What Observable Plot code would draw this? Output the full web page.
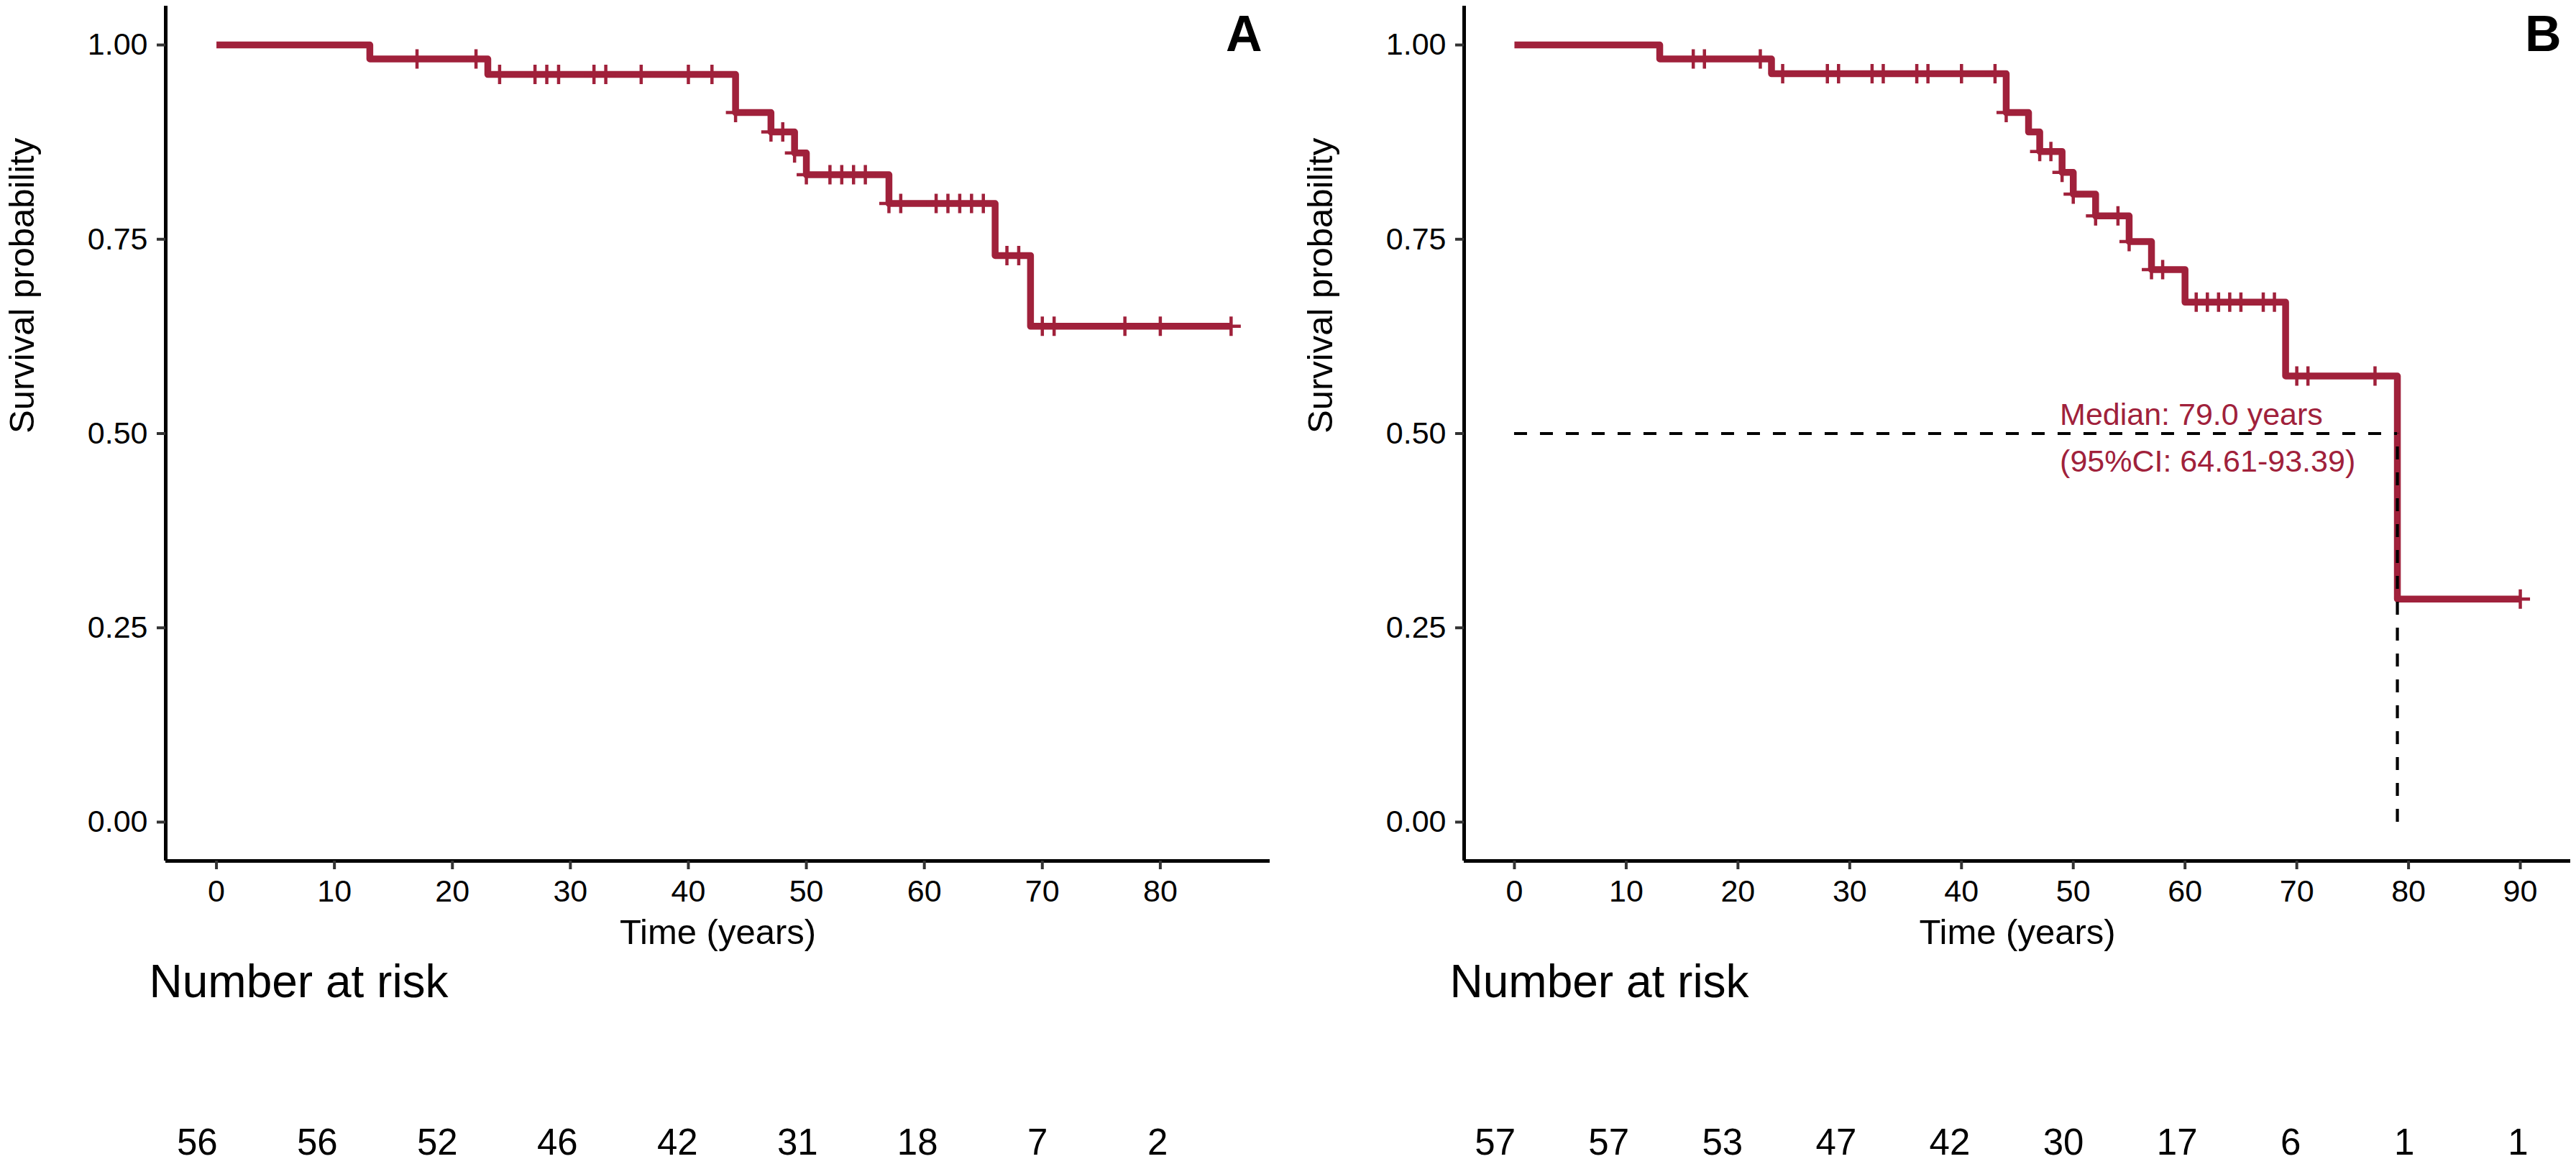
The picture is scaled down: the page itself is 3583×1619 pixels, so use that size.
<!DOCTYPE html>
<html><head><meta charset="utf-8">
<script src="https://cdn.jsdelivr.net/npm/d3@7"></script>
<script src="https://cdn.jsdelivr.net/npm/@observablehq/plot@0.6"></script>
<style>
html,body{margin:0;padding:0;background:#fff;}
#wrap{display:flex;width:3583px;height:1619px;overflow:hidden;background:#fff;}
.col{display:flex;flex-direction:column;}
svg{max-width:none!important;display:block;}
</style></head><body>
<div id="wrap"><div class="col" id="colA"></div><div class="col" id="colB"></div></div>
<script>
// ---- Data ----
const timesA = [0, 13, 23, 44, 47, 49, 50, 57, 66, 69, 86];
const survA  = [1, 0.982, 0.962, 0.913, 0.888, 0.861, 0.833, 0.796, 0.729, 0.638, 0.638];
const censorA = [17, 22, 24, 27, 28, 29, 32, 33, 36, 40, 42, 44, 47, 48, 49, 50, 52, 53, 54, 55,
                 57, 58, 61, 62, 63, 64, 65, 67, 68, 70, 71, 77, 80, 86];
const timesB = [0, 13, 23, 44, 46, 47, 49, 50, 52, 55, 57, 60, 69, 79, 90];
const survB  = [1, 0.982, 0.963, 0.913, 0.888, 0.863, 0.836, 0.808, 0.780, 0.747, 0.711, 0.669, 0.574, 0.287, 0.287];
const censorB = [16, 17, 22, 24, 28, 29, 32, 33, 36, 37, 40, 43, 44, 47, 48, 49, 50, 52, 54, 55,
                 57, 58, 61, 62, 63, 64, 65, 67, 68, 70, 71, 77, 90];
const riskTimesA = [0, 10, 20, 30, 40, 50, 60, 70, 80];
const riskA = [56, 56, 52, 46, 42, 31, 18, 7, 2];
const riskTimesB = [0, 10, 20, 30, 40, 50, 60, 70, 80, 90];
const riskB = [57, 57, 53, 47, 42, 30, 17, 6, 1, 1];
const yTicks = [0, 0.25, 0.5, 0.75, 1];
const xTicksA = [0, 10, 20, 30, 40, 50, 60, 70, 80];
const xTicksB = [0, 10, 20, 30, 40, 50, 60, 70, 80, 90];
const medianB = 79.0;
const medianLabel = "Median: 79.0 years\n(95%CI: 64.61-93.39)";

// ---- Styling ----
const RED = "#A0213B";
const FONT = "Liberation Sans, Arial, sans-serif";
const yDomain = [-0.05, 1.05];

const plusSymbol = {
  draw(ctx, size) {
    const r = Math.sqrt(size / Math.PI);
    ctx.moveTo(-r, 0); ctx.lineTo(r, 0);
    ctx.moveTo(0, -r); ctx.lineTo(0, r);
  }
};

function mainPlot({times, surv, censor, xDomain, xTicks, width, marginLeft, marginRight, letter, letterDx, extra = []}) {
  const curve = times.map((t, i) => ({t, s: surv[i]}));
  const cens = censor.map(t => ({t, s: surv[d3.bisectRight(times, t) - 1]}));
  return Plot.plot({
    width, height: 1330, marginLeft, marginRight, marginTop: 8, marginBottom: 133,
    style: {fontFamily: FONT, background: "white", color: "black"},
    x: {domain: xDomain},
    y: {domain: yDomain},
    marks: [
      Plot.line(curve, {x: "t", y: "s", curve: "step-after", stroke: RED, strokeWidth: 9.5,
        strokeLinecap: "butt", strokeLinejoin: "round"}),
      Plot.dot(cens, {x: "t", y: "s", symbol: plusSymbol, r: 13.5, stroke: RED, strokeWidth: 4.5, fill: "none"}),
      ...extra,
      Plot.ruleX([xDomain[0]], {stroke: "black", strokeWidth: 5}),
      Plot.ruleY([yDomain[0]], {stroke: "black", strokeWidth: 5}),
      Plot.axisX(xTicks, {tickSize: 12, tickPadding: 13.5, fontSize: 43, stroke: "#333", strokeWidth: 4,
        fill: "black", label: null}),
      Plot.axisY(yTicks, {tickSize: 12, tickPadding: 13, tickFormat: d3.format(".2f"), fontSize: 43,
        stroke: "#333", strokeWidth: 4, fill: "black", label: null}),
      Plot.text(["Time (years)"], {text: d => d, frameAnchor: "bottom", lineAnchor: "middle", dy: 100,
        fontSize: 49, fill: "black"}),
      Plot.text(["Survival probability"], {text: d => d, frameAnchor: "left", lineAnchor: "middle", rotate: -90,
        dx: -199, fontSize: 49, fill: "black"}),
      Plot.text([letter], {text: d => d, frameAnchor: "top-right", lineAnchor: "middle", textAnchor: "end",
        dx: letterDx, dy: 39.6, fontSize: 70, fontWeight: "bold", fill: "black"})
    ]
  });
}

function riskPlot({riskTimes, risk, xDomain, width, marginLeft, marginRight, titleDx}) {
  const rows = riskTimes.map((t, i) => ({t, n: String(risk[i])}));
  return Plot.plot({
    width, height: 289, marginLeft, marginRight, marginTop: 0, marginBottom: 0,
    style: {fontFamily: FONT, background: "white", color: "black"},
    x: {domain: xDomain, axis: null},
    marks: [
      Plot.text(["Number at risk"], {text: d => d, frameAnchor: "top-left", lineAnchor: "middle",
        textAnchor: "start", dx: titleDx, dy: 36.5, fontSize: 64, fill: "black"}),
      Plot.text(rows, {x: "t", text: "n", frameAnchor: "top", lineAnchor: "middle", dy: 259,
        fontSize: 51, fill: "black"})
    ]
  });
}

const xDomainA = [-4.3, 89.3];
const xDomainB = [-4.5, 94.5];

const extraB = [
  Plot.ruleY([{y: 0.5, x1: 0, x2: medianB}], {y: "y", x1: "x1", x2: "x2", stroke: "black",
    strokeWidth: 4.2, strokeDasharray: "18,18"}),
  Plot.ruleX([{x: medianB, y1: 0, y2: 0.5}], {x: "x", y1: "y1", y2: "y2", stroke: "black",
    strokeWidth: 4.2, strokeDasharray: "18,18"}),
  Plot.text([{x: 48.8, y: 0.5, label: medianLabel}], {x: "x", y: "y", text: "label", textAnchor: "start",
    lineAnchor: "middle", lineHeight: 1.51, fontSize: 43, fill: RED})
];

document.getElementById("colA").append(
  mainPlot({times: timesA, surv: survA, censor: censorA, xDomain: xDomainA, xTicks: xTicksA,
    width: 1791, marginLeft: 230, marginRight: 25, letter: "A", letterDx: -11}),
  riskPlot({riskTimes: riskTimesA, risk: riskA, xDomain: xDomainA, width: 1791,
    marginLeft: 202, marginRight: 26, titleDx: 5})
);
document.getElementById("colB").append(
  mainPlot({times: timesB, surv: survB, censor: censorB, xDomain: xDomainB, xTicks: xTicksB,
    width: 1792, marginLeft: 245, marginRight: 8, letter: "B", letterDx: -13, extra: extraB}),
  riskPlot({riskTimes: riskTimesB, risk: riskB, xDomain: xDomainB, width: 1792,
    marginLeft: 217, marginRight: 10, titleDx: 8})
);
</script></body></html>
